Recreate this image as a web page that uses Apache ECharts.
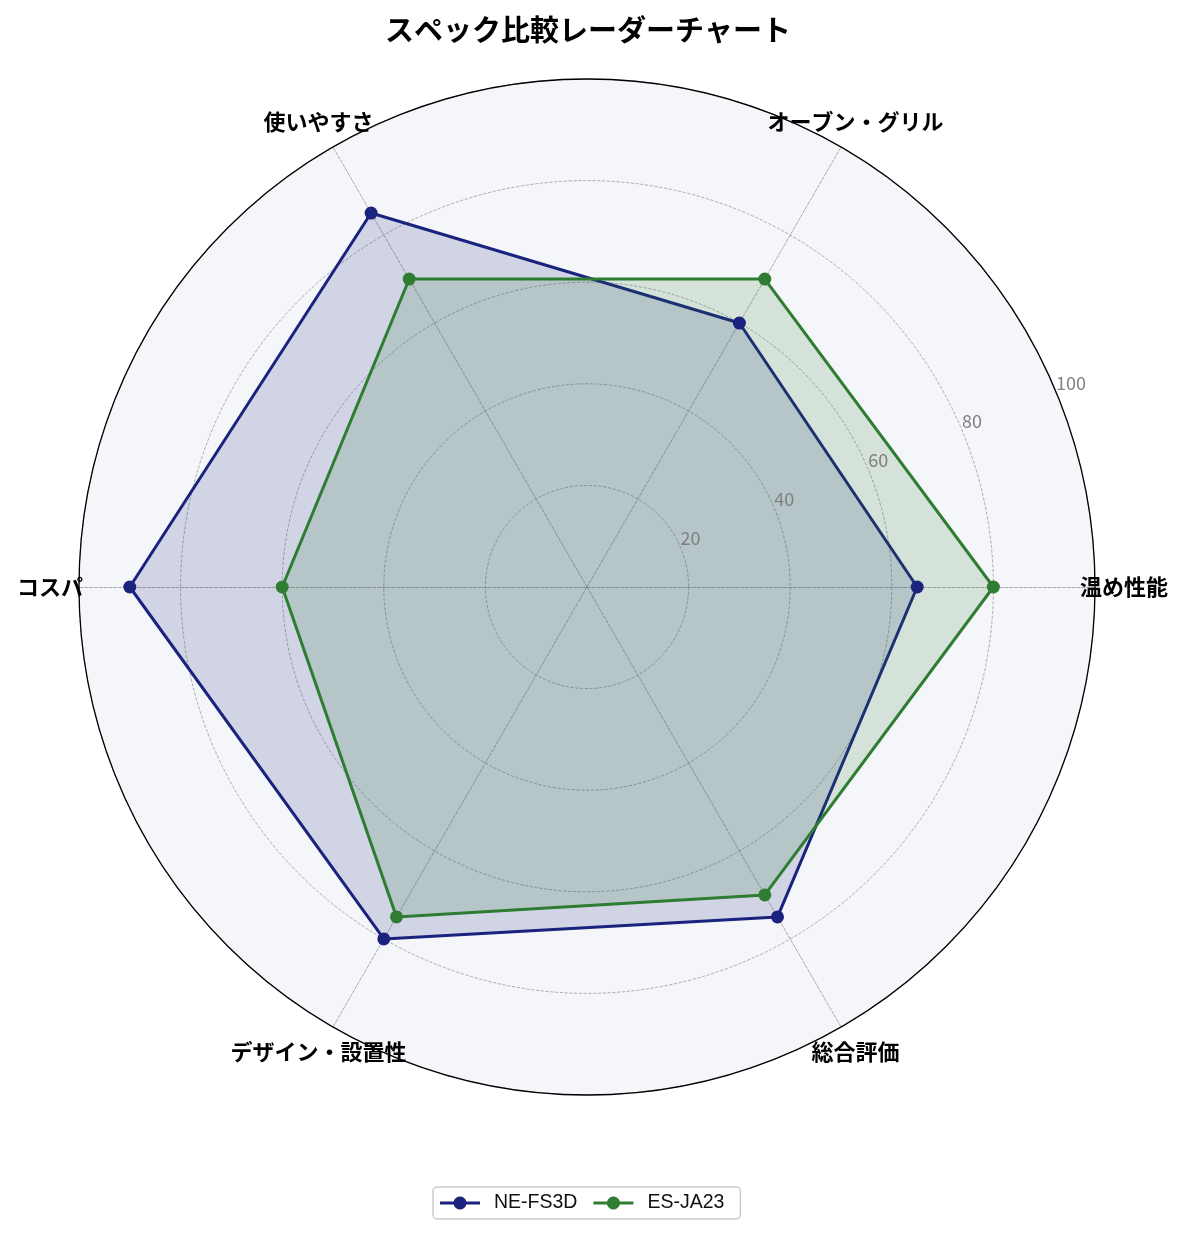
<!DOCTYPE html>
<html>
<head>
<meta charset="utf-8">
<script src="https://cdn.jsdelivr.net/npm/echarts@6/dist/echarts.min.js"></script>
<style>
  html, body { margin: 0; padding: 0; background: #fff; }
  #chart { width: 1185px; height: 1235px; }
</style>
</head>
<body>
<div id="chart"></div>
<script>
var categories = ['温め性能', 'オーブン・グリル', '使いやすさ', 'コスパ', 'デザイン・設置性', '総合評価'];
var seriesNames = ['NE-FS3D', 'ES-JA23'];
var valuesNE = [65, 60, 85, 90, 80, 75];
var valuesES = [80, 70, 70, 60, 75, 70];
var colors = ['#1a237e', '#2e7d32'];
var tickLabels = [20, 40, 60, 80, 100];

// legend handle: a short line with a dot in the middle (40 x 13 box)
function makeLineIcon() {
    var cx = 20, cy = 6.5, r = 6.5, half = 1.5;
    var a0 = Math.asin(half / r);
    var d = 'path://M0,' + (cy - half);
    // upper part of the dot, left to right
    for (var k = 0; k <= 24; k++) {
        var a = Math.PI - a0 - (Math.PI - 2 * a0) * k / 24;
        d += 'L' + (cx + r * Math.cos(a)).toFixed(3) + ',' + (cy - r * Math.sin(a)).toFixed(3);
    }
    d += 'L40,' + (cy - half) + 'L40,' + (cy + half);
    // lower part of the dot, right to left
    for (var k = 0; k <= 24; k++) {
        var a = a0 + (Math.PI - 2 * a0) * k / 24;
        d += 'L' + (cx + r * Math.cos(a)).toFixed(3) + ',' + (cy + r * Math.sin(a)).toFixed(3);
    }
    d += 'L0,' + (cy + half) + 'Z';
    return d;
}

function makeIndicators() {
    var list = [];
    for (var i = 0; i < categories.length; i++) {
        list.push({ name: categories[i], min: 0, max: 100 });
    }
    return list;
}

function makeSeriesData() {
    var vals = [valuesNE, valuesES];
    var out = [];
    for (var i = 0; i < seriesNames.length; i++) {
        out.push({
            name: seriesNames[i],
            value: vals[i],
            lineStyle: { color: colors[i], width: 3 },
            itemStyle: { color: colors[i] },
            areaStyle: { color: colors[i], opacity: 0.16 }
        });
    }
    return out;
}

var myChart = echarts.init(document.getElementById('chart'));

var option = {
    animation: false,
    backgroundColor: '#ffffff',
    title: {
        text: 'スペック比較レーダーチャート',
        left: 380,
        top: 10,
        textStyle: { fontFamily: 'Noto Sans CJK JP', fontWeight: 'bold', fontSize: 29, color: '#000' }
    },
    legend: {
        bottom: 16,
        left: 433,
        data: seriesNames,
        icon: makeLineIcon(),
        symbolKeepAspect: false,
        itemWidth: 40,
        itemHeight: 13,
        itemGap: 16,
        padding: [6, 16, 6, 7],
        borderColor: '#cccccc',
        borderWidth: 1.5,
        borderRadius: 4,
        textStyle: { fontFamily: 'Liberation Sans', fontSize: 19.5, color: '#111', padding: [0, 0, 0, 9] }
    },
    radar: {
        center: [587, 587],
        radius: 508,
        startAngle: 0,
        shape: 'circle',
        splitNumber: 5,
        indicator: makeIndicators(),
        axisName: {
            color: '#000',
            fontFamily: 'Noto Sans CJK JP',
            fontWeight: 'bold',
            fontSize: 22,
            align: 'center',
            verticalAlign: 'middle'
        },
        nameGap: 29,
        axisLine: { lineStyle: { color: '#999', type: 'dashed', width: 0.8 } },
        splitLine: { lineStyle: { color: '#999', type: 'dashed', width: 0.8 } },
        splitArea: { areaStyle: { color: ['#f5f6fa'] } }
    },
    polar: {
        center: [587, 587],
        radius: 508,
        z: 5
    },
    angleAxis: {
        type: 'value',
        min: 0,
        max: 360,
        startAngle: 22.5,
        z: 5,
        axisLine: { show: true, lineStyle: { color: '#000', width: 1.3 } },
        axisTick: { show: false },
        axisLabel: { show: false },
        splitLine: { show: false }
    },
    radiusAxis: {
        min: 0,
        max: 100,
        interval: 20,
        z: 5,
        axisLine: { show: false },
        axisTick: { show: false },
        splitLine: { show: false },
        axisLabel: {
            color: '#808080',
            fontFamily: 'Noto Sans CJK JP',
            fontSize: 18,
            margin: 1,
            align: 'left',
            verticalAlign: 'bottom',
            formatter: function (v) { return tickLabels.indexOf(v) >= 0 ? String(v) : ''; }
        }
    },
    series: [{
        type: 'radar',
        z: 3,
        symbol: 'circle',
        symbolSize: 13,
        data: makeSeriesData()
    }]
};

myChart.setOption(option);
</script>
</body>
</html>
